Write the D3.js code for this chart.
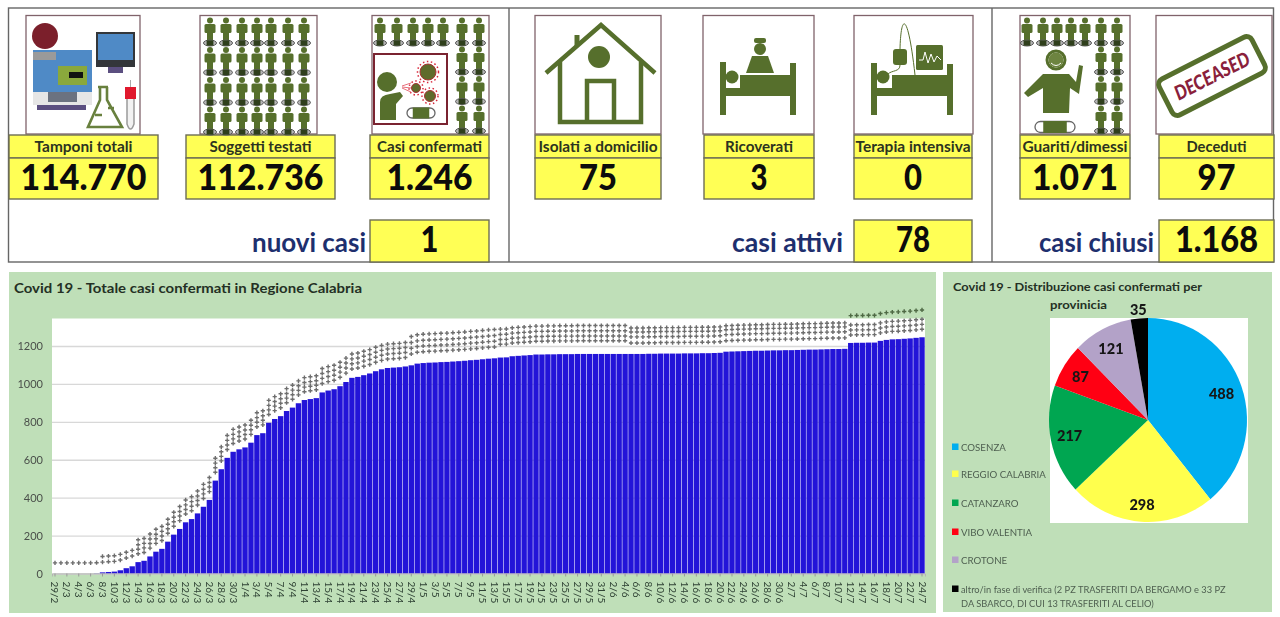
<!DOCTYPE html>
<html>
<head>
<meta charset="utf-8">
<script src="https://cdn.jsdelivr.net/npm/d3@7"></script>
<style>
  html, body { margin: 0; padding: 0; background: #fff; }
  svg { display: block; font-family: Lato, "Open Sans", sans-serif; filter: blur(0.4px); }
</style>
</head>
<body>
<svg id="chart" width="1280" height="617"></svg>
<script>
// top counters
var kpiLabels = ["Tamponi totali", "Soggetti testati", "Casi confermati", "Isolati a domicilio", "Ricoverati", "Terapia intensiva", "Guariti/dimessi", "Deceduti"];
var kpiValues = ["114.770", "112.736", "1.246", "75", "3", "0", "1.071", "97"];
var subLabels = ["nuovi casi", "casi attivi", "casi chiusi"];
var subValues = ["1", "78", "1.168"];

// bar chart
var dayLabels = ["29/2",
  "1/3","2/3","3/3","4/3","5/3","6/3","7/3","8/3","9/3","10/3","11/3","12/3","13/3","14/3","15/3","16/3","17/3","18/3","19/3","20/3","21/3","22/3","23/3","24/3","25/3","26/3","27/3","28/3","29/3","30/3","31/3",
  "1/4","2/4","3/4","4/4","5/4","6/4","7/4","8/4","9/4","10/4","11/4","12/4","13/4","14/4","15/4","16/4","17/4","18/4","19/4","20/4","21/4","22/4","23/4","24/4","25/4","26/4","27/4","28/4","29/4","30/4",
  "1/5","2/5","3/5","4/5","5/5","6/5","7/5","8/5","9/5","10/5","11/5","12/5","13/5","14/5","15/5","16/5","17/5","18/5","19/5","20/5","21/5","22/5","23/5","24/5","25/5","26/5","27/5","28/5","29/5","30/5","31/5",
  "1/6","2/6","3/6","4/6","5/6","6/6","7/6","8/6","9/6","10/6","11/6","12/6","13/6","14/6","15/6","16/6","17/6","18/6","19/6","20/6","21/6","22/6","23/6","24/6","25/6","26/6","27/6","28/6","29/6","30/6",
  "1/7","2/7","3/7","4/7","5/7","6/7","7/7","8/7","9/7","10/7","11/7","12/7","13/7","14/7","15/7","16/7","17/7","18/7","19/7","20/7","21/7","22/7","23/7","24/7"];
var totalCases = [0,0,0,0,0,0,0,1,
  6,8,10,17,28,38,60,67,90,115,130,168,205,235,270,287,317,352,388,490,550,610,642,
  655,665,690,730,740,795,815,830,857,875,898,915,920,925,955,965,972,988,
  1010,1032,1037,1046,1055,1067,1077,1084,1086,1088,1092,1098,
  1107,1110,1112,1113,1115,1116,1118,1120,1122,1125,1127,1130,1133,1135,1139,1140,1146,1148,1150,1152,1155,1155,1156,1156,1157,1157,1157,1158,1158,1158,1158,
  1158,1158,1158,1158,1158,1158,1158,1158,1159,1159,1160,1160,1160,1160,1161,1161,1161,1162,1162,1163,1164,1170,1171,1172,1173,1174,1175,1175,1176,1177,1177,
  1178,1178,1179,1180,1181,1181,1182,1183,1184,1184,1185,
  1216,1217,1217,1218,1218,1227,1232,1235,1236,1238,1240,1243,1246];
var yTicks = [0, 200, 400, 600, 800, 1000, 1200];

// the rows of little marks over the bars, read as height above the bar
var markFrom = [0, 8, 14, 45, 60, 75, 97, 134];
var markRows = [[56], [54, 84], [44, 68, 92, 118], [47, 74, 100, 126], [60, 90, 120, 152], [70, 95, 122, 150], [58, 90, 116, 137], [42, 68, 95, 144]];

// pie
var provinces = ["COSENZA", "REGGIO CALABRIA", "CATANZARO", "VIBO VALENTIA", "CROTONE", "altro/in fase di verifica (2 PZ TRASFERITI DA BERGAMO e 33 PZ", "DA SBARCO, DI CUI 13 TRASFERITI AL CELIO)"];
var provinceCases = [488, 298, 217, 87, 121, 35];
var provinceColors = ["#00aeef", "#ffff4d", "#00a651", "#ff0013", "#b3a2c8", "#000000"];

var OLIVE = "#566f2c", YELLOW = "#ffff55", EDGE = "#6d6d55", FRAME = "#80636b", NAVY = "#1e2f6e", INK = "#243024";
var svg = d3.select("#chart");

// squeeze Lato to roughly the width the picture has
function squeeze(sel, k) {
  sel.each(function () {
    var len = this.getComputedTextLength();
    d3.select(this).attr("textLength", len * k).attr("lengthAdjust", "spacingAndGlyphs");
  });
  return sel;
}

function box(x0, y0, x1, y1) {
  svg.append("rect").attr("x", x0).attr("y", y0).attr("width", x1 - x0).attr("height", y1 - y0)
    .attr("fill", YELLOW).attr("stroke", EDGE).attr("stroke-width", 1.4);
}

/* ---------- top strip ---------- */
svg.append("rect").attr("x", 8.5).attr("y", 8).attr("width", 1265).attr("height", 254)
  .attr("fill", "#fff").attr("stroke", "#666").attr("stroke-width", 1.4);
[509, 992].forEach(function (x) {
  svg.append("line").attr("x1", x).attr("x2", x).attr("y1", 8).attr("y2", 262).attr("stroke", "#666").attr("stroke-width", 1.4);
});

var iconFrames = [[26, 140], [200, 317], [372, 489], [535, 661], [703, 814], [854, 973], [1020, 1130], [1156, 1272]];
var kpiBoxes = [[9, 158], [186, 335], [370, 489], [535, 661], [704, 814], [854, 972], [1020, 1130], [1159, 1274]];
var kpiLabelWidths = [98, 102, 105, 119, 68, 115, 105, 60];
var kpiWidths = [126, 126, 86, 38, 17, 18, 86, 38];

iconFrames.forEach(function (f) {
  svg.append("rect").attr("x", f[0]).attr("y", 15.5).attr("width", f[1] - f[0]).attr("height", 118.5)
    .attr("fill", "#fff").attr("stroke", FRAME).attr("stroke-width", 1.3);
});

kpiBoxes.forEach(function (b, i) {
  box(b[0], 135, b[1], 158);
  box(b[0], 158, b[1], 199);
  var cx = (b[0] + b[1]) / 2;
  svg.append("text").attr("x", cx).attr("y", 151.5).attr("text-anchor", "middle")
    .attr("font-size", 14.5).attr("font-weight", 700).attr("fill", "#2c3320")
    .text(kpiLabels[i]).attr("textLength", kpiLabelWidths[i]).attr("lengthAdjust", "spacingAndGlyphs");
  svg.append("text").attr("x", cx).attr("y", 190).attr("text-anchor", "middle")
    .attr("font-size", 36).attr("font-weight", 900).attr("fill", "#0c0c0c")
    .text(kpiValues[i]).attr("textLength", kpiWidths[i]).attr("lengthAdjust", "spacingAndGlyphs");
});

var subBoxes = [[370, 489, 366], [854, 972, 843], [1159, 1274, 1154]];
var subLabelWidths = [114, 111, 115];
var subWidths = [18, 34, 83];
subBoxes.forEach(function (b, i) {
  box(b[0], 220, b[1], 262);
  svg.append("text").attr("x", b[2]).attr("y", 252).attr("text-anchor", "end")
    .attr("font-size", 27).attr("font-weight", 700).attr("fill", NAVY)
    .text(subLabels[i]).attr("textLength", subLabelWidths[i]).attr("lengthAdjust", "spacingAndGlyphs");
  svg.append("text").attr("x", (b[0] + b[1]) / 2).attr("y", 252).attr("text-anchor", "middle")
    .attr("font-size", 36).attr("font-weight", 900).attr("fill", "#0c0c0c")
    .text(subValues[i]).attr("textLength", subWidths[i]).attr("lengthAdjust", "spacingAndGlyphs");
});

/* ---------- icons ---------- */
function person(g, x, y) {
  var p = g.append("g").attr("transform", "translate(" + x + "," + y + ")").attr("fill", OLIVE);
  p.append("circle").attr("cx", 0).attr("cy", 3).attr("r", 3);
  p.append("rect").attr("x", -5.5).attr("y", 6.5).attr("width", 11).attr("height", 9).attr("rx", 1.5);
  p.append("rect").attr("x", -3).attr("y", 15).attr("width", 6).attr("height", 8);
  p.append("ellipse").attr("cx", 0).attr("cy", 25.5).attr("rx", 6.5).attr("ry", 3)
    .attr("fill", "#b5b5b5").attr("stroke", "#5a5a5a").attr("stroke-width", 1);
  p.append("rect").attr("x", -3.4).attr("y", 22.8).attr("width", 6.8).attr("height", 5.4).attr("fill", "#2f3f1c");
}

function mask(g, x, y, w, h) {
  g.append("rect").attr("x", x - w / 2).attr("y", y - h / 2).attr("width", w).attr("height", h).attr("rx", h / 2)
    .attr("fill", "#fff").attr("stroke", "#666").attr("stroke-width", 1.3);
  g.append("rect").attr("x", x - w / 3.4).attr("y", y - h / 2 - 0.5).attr("width", w / 1.7).attr("height", h + 1).attr("fill", OLIVE);
}

// lab machine
var ic = svg.append("g");
function r(x0, y0, x1, y1, c) {
  ic.append("rect").attr("x", x0).attr("y", y0).attr("width", x1 - x0).attr("height", y1 - y0).attr("fill", c);
}
r(33, 50, 92, 92, "#4f8ac6");
r(33, 52, 56, 60, "#9a9a9a");
ic.append("circle").attr("cx", 45).attr("cy", 36).attr("r", 13).attr("fill", "#7b1f2b");
r(58, 66, 87, 85, "#8aa83c");
r(69, 72, 83, 78, "#111");
r(33, 92, 92, 105, "#e6e6e6");
r(48, 92, 77, 102, "#6b7280");
r(37, 105, 86, 110, "#5b4f80");
r(96, 32, 135, 67, "#33363a");
r(98, 34, 133, 60, "#4f8ac6");
r(108, 67, 123, 73, "#5b4f80");
ic.append("path").attr("d", "M98,87 L108,87 M100,87 L100,100 L88,127 L122,127 L107,100 L107,87 M95,115 L102,115 M108,108 L114,108")
  .attr("fill", "none").attr("stroke", "#68803e").attr("stroke-width", 2.6);
ic.append("path").attr("d", "M127,96 L127,124 Q130.500,134 134,124 L134,96").attr("fill", "#f2f2f2").attr("stroke", "#9a9a9a").attr("stroke-width", 1.5);
ic.append("line").attr("x1", 130.500).attr("x2", 130.500).attr("y1", 80).attr("y2", 88).attr("stroke", "#aaa");
r(125, 87, 136, 99, "#e0182d");

// crowd
var crowdX = [210, 226, 242, 257, 271, 288, 304];
var crowd = svg.append("g");
crowdX.forEach(function (x) {
  [17.500, 47, 77, 106.500].forEach(function (y) { person(crowd, x, y); });
});

// crowd with sick person
var sick = svg.append("g");
[380, 397, 413, 428, 443, 462, 479].forEach(function (x) { person(sick, x, 17.500); });
[462, 479].forEach(function (x) {
  [46.500, 76, 105.500].forEach(function (y) { person(sick, x, y); });
});
sick.append("rect").attr("x", 374).attr("y", 54).attr("width", 73).attr("height", 70).attr("fill", "#fff").attr("stroke", "#7a2330").attr("stroke-width", 2);
sick.append("circle").attr("cx", 387).attr("cy", 82).attr("r", 10).attr("fill", OLIVE);
sick.append("path").attr("d", "M380,120 L380,102 Q380,95 390,94 L400,92 L403,96 L396,104 L396,120 Z").attr("fill", OLIVE);
[[428, 72, 8], [416, 88, 4.500], [430, 96, 5.500]].forEach(function (v) {
  sick.append("circle").attr("cx", v[0]).attr("cy", v[1]).attr("r", v[2] + 2.500).attr("fill", "none").attr("stroke", "#d9263a").attr("stroke-width", 1.5).attr("stroke-dasharray", "1.500 2.500");
  sick.append("circle").attr("cx", v[0]).attr("cy", v[1]).attr("r", v[2]).attr("fill", "#5f6b2c").attr("stroke", "#a33").attr("stroke-width", 1);
});
sick.append("path").attr("d", "M402,86 L411,83 M402,87 L411,88 M402,88 L411,92").attr("stroke", "#e7707c").attr("stroke-width", 1);
mask(sick, 421, 113, 28, 10);

// house
var home = svg.append("g").attr("fill", "none").attr("stroke", OLIVE).attr("stroke-width", 4.500);
home.append("path").attr("d", "M546,73 L601,25 L655,73");
home.append("path").attr("d", "M560,62 L560,122 L641,122 L641,62");
home.append("path").attr("d", "M587,122 L587,81 L614,81 L614,122");
home.append("path").attr("d", "M577,46 L577,35").attr("stroke-width", 5);
svg.append("circle").attr("cx", 599).attr("cy", 57).attr("r", 11).attr("fill", OLIVE);

// beds
function bed(x0, x1, top, matX) {
  var g = svg.append("g").attr("fill", OLIVE);
  g.append("rect").attr("x", x0).attr("y", top).attr("width", 6).attr("height", 115 - top);
  g.append("rect").attr("x", x1 - 6).attr("y", top + 1).attr("width", 6).attr("height", 114 - top);
  g.append("rect").attr("x", matX).attr("y", 75).attr("width", x1 - matX - 3).attr("height", 21);
  g.append("rect").attr("x", x0).attr("y", 88).attr("width", x1 - x0).attr("height", 8);
  g.append("circle").attr("cx", x0 + 12).attr("cy", 77).attr("r", 6.500);
  return g;
}
var ward = bed(720, 796, 62, 740);
ward.append("circle").attr("cx", 760).attr("cy", 49).attr("r", 6);
ward.append("rect").attr("x", 754).attr("y", 38).attr("width", 12).attr("height", 5).attr("rx", 2);
ward.append("path").attr("d", "M752,56 L768,56 L774,73 L746,73 Z");

var icu = bed(871, 953, 63, 892);
icu.append("rect").attr("x", 893).attr("y", 49).attr("width", 14).attr("height", 16).attr("rx", 3);
icu.append("rect").attr("x", 916).attr("y", 45).attr("width", 27).attr("height", 25).attr("rx", 1.500);
svg.append("path").attr("d", "M919,60 L923,60 L925,52 L928,63 L931,54 L934,62 L937,56 L941,60").attr("fill", "none").attr("stroke", "#fff").attr("stroke-width", 1);
svg.append("path").attr("d", "M900,49 C901,12 908,12 915,75 M900,65 C900,72 892,70 888,74").attr("fill", "none").attr("stroke", OLIVE).attr("stroke-width", 1);

// recovered
var cured = svg.append("g");
[1027, 1043, 1057, 1071, 1085, 1101, 1117].forEach(function (x) { person(cured, x, 17.500); });
[1101, 1117].forEach(function (x) {
  [46.500, 76, 105.500].forEach(function (y) { person(cured, x, y); });
});
cured.append("circle").attr("cx", 1056).attr("cy", 60).attr("r", 9).attr("fill", "#fff").attr("stroke", OLIVE).attr("stroke-width", 3);
cured.append("circle").attr("cx", 1056).attr("cy", 60).attr("r", 7.500).attr("fill", "#6d8440");
cured.append("path").attr("d", "M1051,63 Q1056,68 1061,63").attr("fill", "none").attr("stroke", "#fff").attr("stroke-width", 1);
cured.append("path").attr("d", "M1024,93 L1043,74 L1069,74 L1076,82 L1079,65 L1083,66 L1079,94 L1070,88 L1069,113 L1043,113 L1043,88 L1028,97 Z").attr("fill", OLIVE);
mask(cured, 1055, 127, 40, 11);

// stamp
var stamp = svg.append("g").attr("transform", "translate(1212,76) rotate(-27)");
stamp.append("rect").attr("x", -52).attr("y", -20).attr("width", 104).attr("height", 40).attr("rx", 6)
  .attr("fill", "#fff").attr("stroke", OLIVE).attr("stroke-width", 5);
stamp.append("text").attr("text-anchor", "middle").attr("y", 7).attr("font-size", 20).attr("font-weight", 900)
  .attr("font-style", "italic").attr("fill", "#8a1f3c").text("DECEASED").attr("textLength", 82).attr("lengthAdjust", "spacingAndGlyphs");

/* ---------- bar chart ---------- */
var PANEL = "#bfdfb8";
svg.append("rect").attr("x", 9).attr("y", 272).attr("width", 927).attr("height", 341).attr("fill", PANEL);
svg.append("text").attr("x", 14).attr("y", 293).attr("font-size", 13.5).attr("font-weight", 700).attr("fill", INK)
  .text("Covid 19 - Totale casi confermati in Regione Calabria").attr("textLength", 348).attr("lengthAdjust", "spacingAndGlyphs");

var x = d3.scaleBand().domain(dayLabels).range([52, 925]).paddingInner(0.09).paddingOuter(0.05);
var y = d3.scaleLinear().domain([0, 1345]).range([573.5, 318.5]);

svg.append("rect").attr("x", 52).attr("y", 318.5).attr("width", 873).attr("height", 255).attr("fill", "#fff");

var grid = svg.append("g").attr("transform", "translate(52,0)")
  .call(d3.axisLeft(y).tickValues(yTicks).tickFormat(d3.format("d")).tickSize(-873).tickPadding(9));
grid.select(".domain").remove();
grid.selectAll(".tick line").attr("stroke", "#d8d8d8").attr("stroke-width", 1.4);
grid.selectAll(".tick text").attr("font-size", 11).attr("font-family", "Lato").attr("fill", "#4a4f4a");

svg.append("g").selectAll("rect").data(totalCases).join("rect")
  .attr("x", function (d, i) { return x(dayLabels[i]); })
  .attr("y", function (d) { return y(d); })
  .attr("width", x.bandwidth())
  .attr("height", function (d) { return y(0) - y(d); })
  .attr("fill", "#2314d8");

var markShape = d3.symbol().type(d3.symbolCross).size(10);
var marks = svg.append("g");
totalCases.forEach(function (d, i) {
  var phase = d3.bisectRight(markFrom, i) - 1;
  markRows[phase].forEach(function (up, row) {
    marks.append("path").attr("d", markShape)
      .attr("transform", "translate(" + (x(dayLabels[i]) + x.bandwidth() / 2) + "," + y(d + up) + ")")
      .attr("fill", phase == 7 && row == 3 ? "#4f6a45" : "#6e6e6e");
  });
});

var xAxis = svg.append("g").attr("transform", "translate(0,573.5)")
  .call(d3.axisBottom(x).tickValues(dayLabels.filter(function (d, i) { return i % 2 == 0; })).tickSize(3));
xAxis.select(".domain").attr("stroke", "#b5b5b5");
xAxis.selectAll(".tick line").attr("stroke", "#999");
xAxis.selectAll(".tick text")
  .attr("font-size", 10).attr("font-family", "Lato").attr("fill", "#2f4234")
  .attr("text-anchor", "start").attr("dy", 0).attr("y", 0)
  .attr("transform", "translate(-3.500,8) rotate(90)");

/* ---------- pie ---------- */
svg.append("rect").attr("x", 943).attr("y", 272).attr("width", 329).attr("height", 340).attr("fill", PANEL);
svg.append("text").attr("x", 953).attr("y", 291).attr("font-size", 12).attr("font-weight", 700).attr("fill", INK)
  .text("Covid 19 - Distribuzione casi confermati per").attr("textLength", 249).attr("lengthAdjust", "spacingAndGlyphs");
svg.append("text").attr("x", 1050).attr("y", 309).attr("font-size", 12).attr("font-weight", 700).attr("fill", INK)
  .text("provinicia").attr("textLength", 57).attr("lengthAdjust", "spacingAndGlyphs");
svg.append("rect").attr("x", 1050).attr("y", 318).attr("width", 198).attr("height", 205).attr("fill", "#fff");

var pieCentre = svg.append("g").attr("transform", "translate(1148,420) scale(1,1.03)");
var slices = d3.pie().sort(null)(provinceCases);
var arc = d3.arc().innerRadius(0).outerRadius(99);
pieCentre.selectAll("path").data(slices).join("path")
  .attr("d", arc)
  .attr("fill", function (d, i) { return provinceColors[i]; });

var labelRadius = [78, 85, 80, 80, 80, 110];
svg.append("g").selectAll("text").data(slices).join("text")
  .attr("transform", function (d, i) {
    var mid = (d.startAngle + d.endAngle) / 2, rr = labelRadius[i];
    return "translate(" + (1148 + rr * Math.sin(mid)) + "," + (420 - rr * Math.cos(mid) + 5) + ")";
  })
  .attr("text-anchor", "middle").attr("font-size", 14.5).attr("font-weight", 900).attr("fill", "#161616")
  .text(function (d) { return d.value; });

var legendY = [447, 474, 503, 532, 560, 589];
legendY.forEach(function (ly, i) {
  svg.append("rect").attr("x", 952).attr("y", ly - 3.500).attr("width", 6.500).attr("height", 6.500).attr("fill", provinceColors[i]);
  svg.append("text").attr("x", 961).attr("y", ly + 3.500).attr("font-size", 10).attr("fill", "#4e5f50").text(provinces[i])
    .call(squeeze, i == 5 ? 0.93 : 0.97);
});
svg.append("text").attr("x", 961).attr("y", 607).attr("font-size", 10).attr("fill", "#4e5f50").text(provinces[6]).call(squeeze, 0.93);
</script>
</body>
</html>
